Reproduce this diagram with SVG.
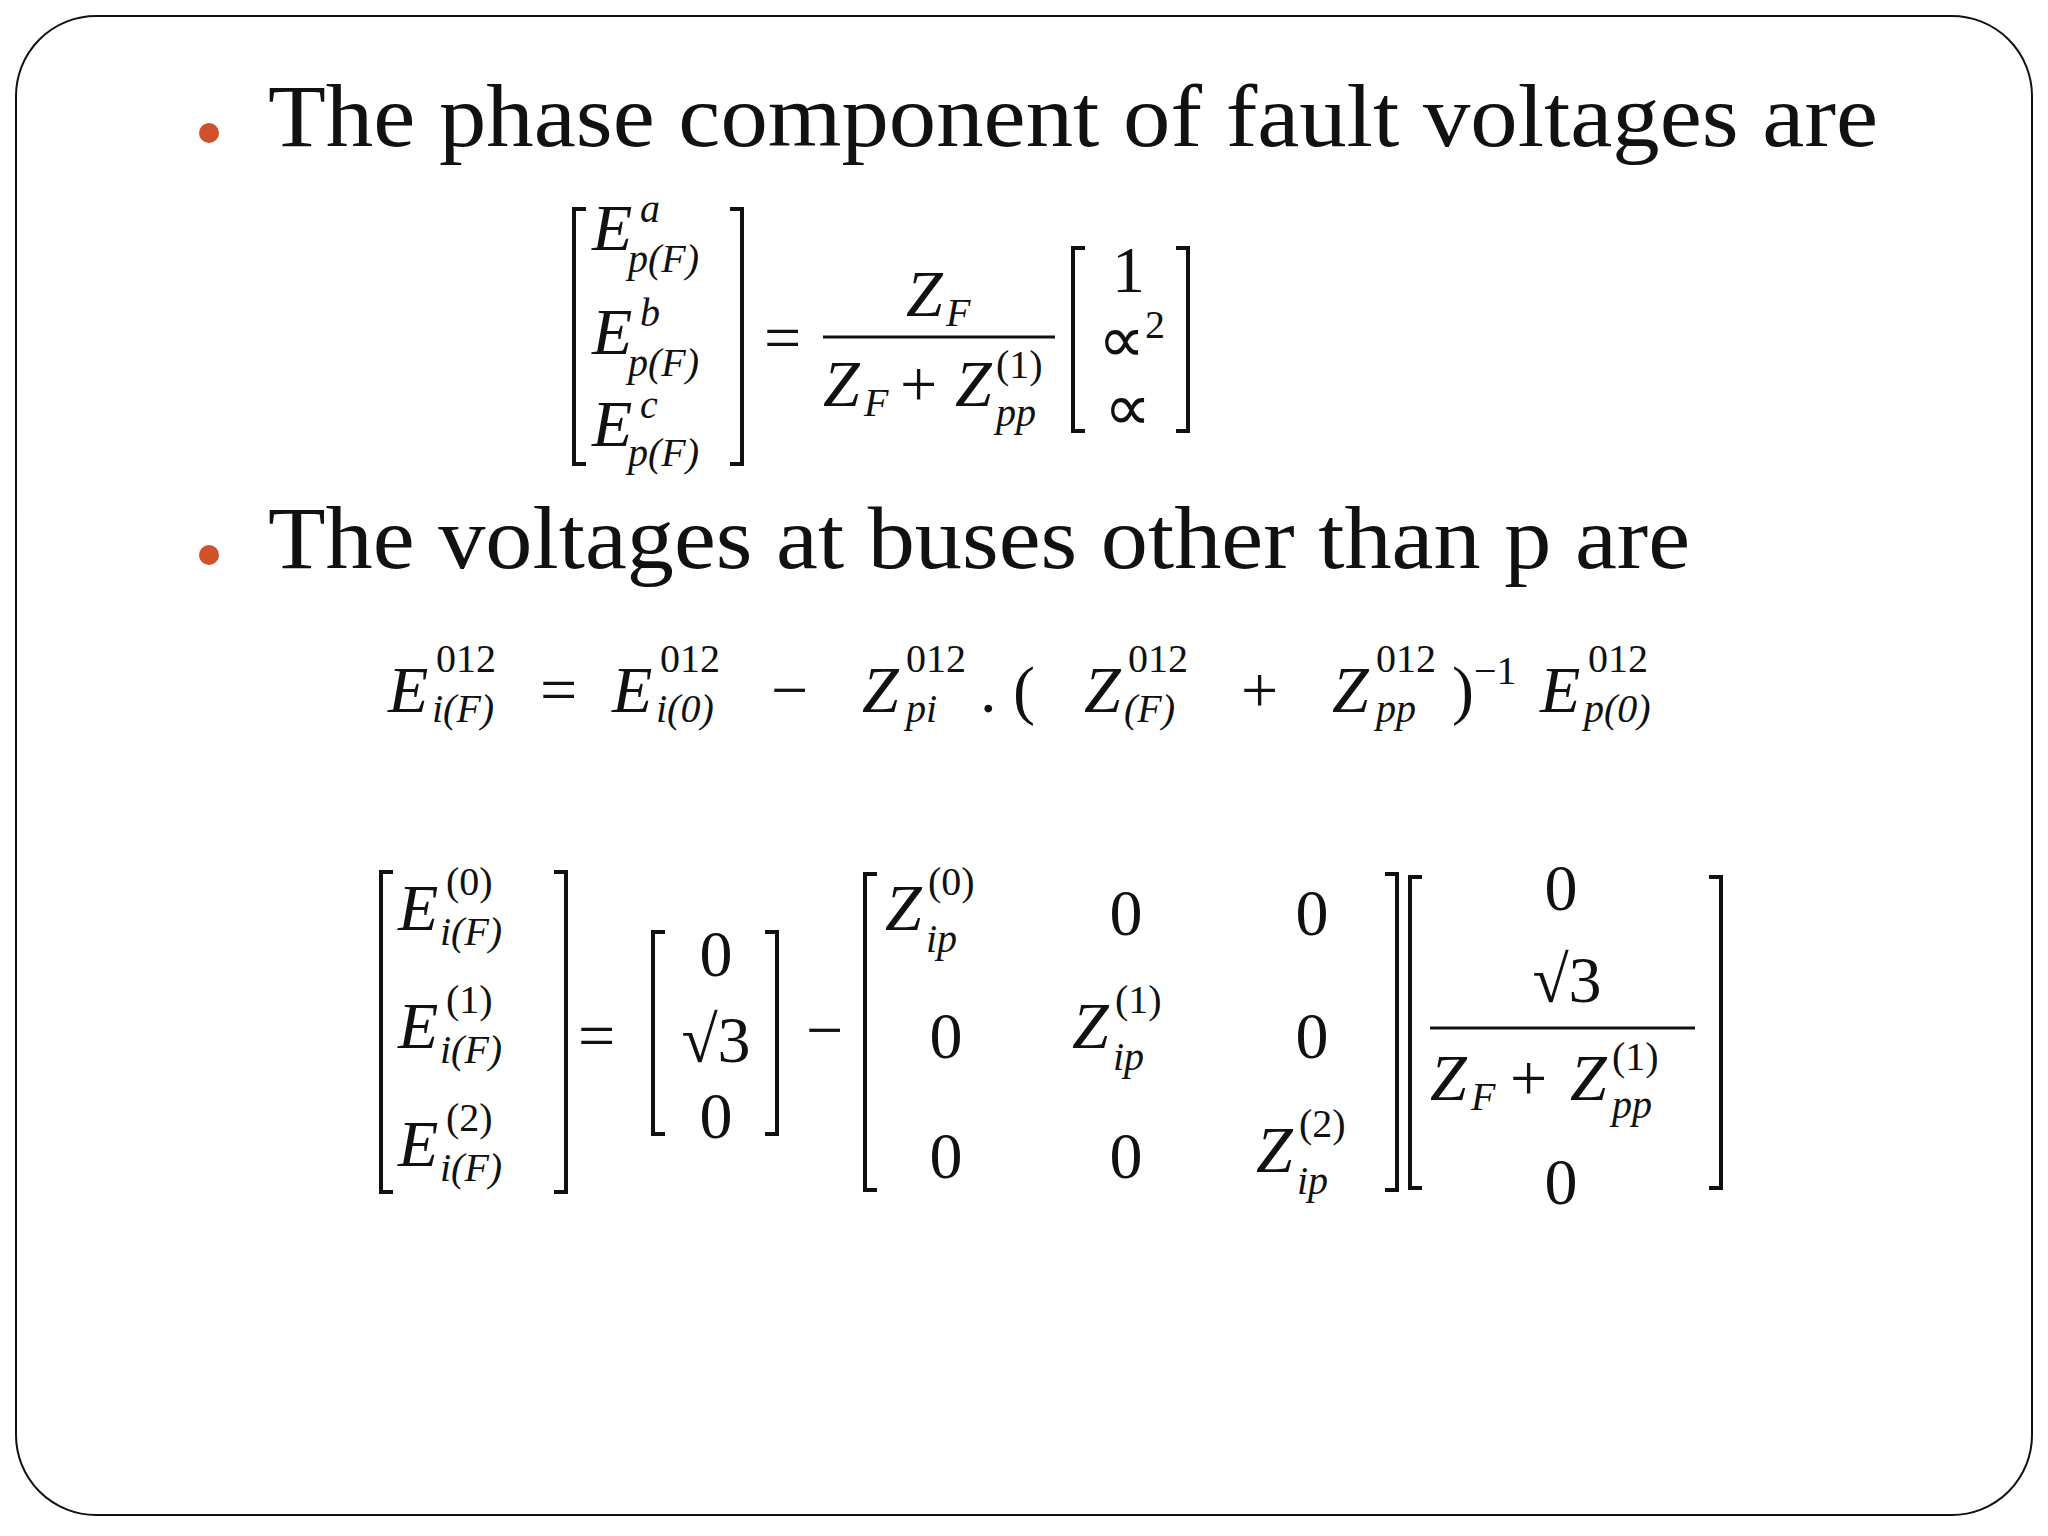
<svg xmlns="http://www.w3.org/2000/svg" width="2048" height="1536" viewBox="0 0 2048 1536">
<style>
.t{font-family:"Liberation Serif",serif;font-size:88px;fill:#111}
.m{font-family:"Liberation Serif",serif;font-size:66px;fill:#111}
.i{font-style:italic}
.s{font-size:40px}
.br{fill:none;stroke:#111;stroke-width:4}
.bar{stroke:#111;stroke-width:3}
</style>
<rect x="16" y="16" width="2016" height="1499" rx="80" fill="#fff" stroke="#111" stroke-width="2"/>
<g id="bullet1"><circle cx="209" cy="133" r="10" fill="#d0502a"/><text class="t" x="268" y="146" textLength="1610" lengthAdjust="spacingAndGlyphs">The phase component of fault voltages are</text></g>
<g id="bullet2"><circle cx="209" cy="555" r="10" fill="#d0502a"/><text class="t" x="268" y="568" textLength="1422" lengthAdjust="spacingAndGlyphs">The voltages at buses other than p are</text></g>
<g id="eq1">
<polyline class="br" points="586,209 574,209 574,464 586,464"/>
<polyline class="br" points="730,209 742,209 742,464 730,464"/>
<text class="m i" x="592" y="250">E</text><text class="m i s" x="640" y="222">a</text><text class="m i s" x="628" y="272">p(F)</text>
<text class="m i" x="592" y="354">E</text><text class="m i s" x="640" y="326">b</text><text class="m i s" x="628" y="376">p(F)</text>
<text class="m i" x="592" y="446">E</text><text class="m i s" x="640" y="418">c</text><text class="m i s" x="628" y="466">p(F)</text>
<text class="m" x="764" y="360">=</text>
<text class="m i" x="906" y="316">Z</text><text class="m i s" x="946" y="326">F</text>
<line class="bar" x1="823" y1="337" x2="1055" y2="337"/>
<text class="m i" x="823" y="406">Z</text><text class="m i s" x="864" y="416">F</text>
<text class="m" x="900" y="406">+</text>
<text class="m i" x="955" y="406">Z</text><text class="m s" x="996" y="378">(1)</text><text class="m i s" x="996" y="426">pp</text>
<polyline class="br" points="1085,248 1073,248 1073,431 1085,431"/>
<polyline class="br" points="1176,248 1188,248 1188,431 1176,431"/>
<text class="m" x="1112" y="292">1</text>
<text class="m" x="1098" y="362">∝<tspan class="s" dy="-24">2</tspan></text>
<text class="m" x="1104" y="430">∝</text>
</g>
<g id="eq2">
<text class="m i" x="388" y="712">E</text><text class="m s" x="436" y="672">012</text><text class="m i s" x="432" y="722">i(F)</text>
<text class="m" x="540" y="712">=</text>
<text class="m i" x="612" y="712">E</text><text class="m s" x="660" y="672">012</text><text class="m i s" x="656" y="722">i(0)</text>
<text class="m" x="771" y="712">−</text>
<text class="m i" x="862" y="712">Z</text><text class="m s" x="906" y="672">012</text><text class="m i s" x="906" y="722">pi</text>
<text class="m" x="980" y="712">. (</text>
<text class="m i" x="1084" y="712">Z</text><text class="m s" x="1128" y="672">012</text><text class="m i s" x="1124" y="722">(F)</text>
<text class="m" x="1241" y="712">+</text>
<text class="m i" x="1332" y="712">Z</text><text class="m s" x="1376" y="672">012</text><text class="m i s" x="1376" y="722">pp</text>
<text class="m" x="1452" y="712">)<tspan class="s" dy="-28">−1</tspan></text>
<text class="m i" x="1540" y="712">E</text><text class="m s" x="1588" y="672">012</text><text class="m i s" x="1584" y="722">p(0)</text>
</g>
<g id="eq3">
<polyline class="br" points="393,872 381,872 381,1192 393,1192"/>
<polyline class="br" points="554,872 566,872 566,1192 554,1192"/>
<text class="m i" x="398" y="930">E</text><text class="m s" x="446" y="895">(0)</text><text class="m i s" x="440" y="945">i(F)</text>
<text class="m i" x="398" y="1048">E</text><text class="m s" x="446" y="1013">(1)</text><text class="m i s" x="440" y="1063">i(F)</text>
<text class="m i" x="398" y="1166">E</text><text class="m s" x="446" y="1131">(2)</text><text class="m i s" x="440" y="1181">i(F)</text>
<text class="m" x="578" y="1058">=</text>
<polyline class="br" points="665,932 653,932 653,1134 665,1134"/>
<polyline class="br" points="765,932 777,932 777,1134 765,1134"/>
<text class="m" x="716" y="976" text-anchor="middle">0</text>
<text class="m" x="716" y="1062" text-anchor="middle">√3</text>
<text class="m" x="716" y="1138" text-anchor="middle">0</text>
<text class="m" x="806" y="1052">−</text>
<polyline class="br" points="877,874 865,874 865,1190 877,1190"/>
<polyline class="br" points="1385,874 1397,874 1397,1190 1385,1190"/>
<text class="m i" x="885" y="930">Z</text><text class="m s" x="928" y="895">(0)</text><text class="m i s" x="926" y="952">ip</text>
<text class="m" x="1126" y="935" text-anchor="middle">0</text>
<text class="m" x="1312" y="935" text-anchor="middle">0</text>
<text class="m" x="946" y="1058" text-anchor="middle">0</text>
<text class="m i" x="1072" y="1048">Z</text><text class="m s" x="1115" y="1013">(1)</text><text class="m i s" x="1113" y="1070">ip</text>
<text class="m" x="1312" y="1058" text-anchor="middle">0</text>
<text class="m" x="946" y="1178" text-anchor="middle">0</text>
<text class="m" x="1126" y="1178" text-anchor="middle">0</text>
<text class="m i" x="1256" y="1172">Z</text><text class="m s" x="1299" y="1137">(2)</text><text class="m i s" x="1297" y="1194">ip</text>
<polyline class="br" points="1422,877 1410,877 1410,1188 1422,1188"/>
<polyline class="br" points="1709,877 1721,877 1721,1188 1709,1188"/>
<text class="m" x="1561" y="910" text-anchor="middle">0</text>
<text class="m" x="1567" y="1002" text-anchor="middle">√3</text>
<line class="bar" x1="1430" y1="1028" x2="1695" y2="1028"/>
<text class="m i" x="1430" y="1100">Z</text><text class="m i s" x="1471" y="1110">F</text>
<text class="m" x="1510" y="1100">+</text>
<text class="m i" x="1570" y="1100">Z</text><text class="m s" x="1612" y="1070">(1)</text><text class="m i s" x="1612" y="1118">pp</text>
<text class="m" x="1561" y="1204" text-anchor="middle">0</text>
</g>
</svg>
